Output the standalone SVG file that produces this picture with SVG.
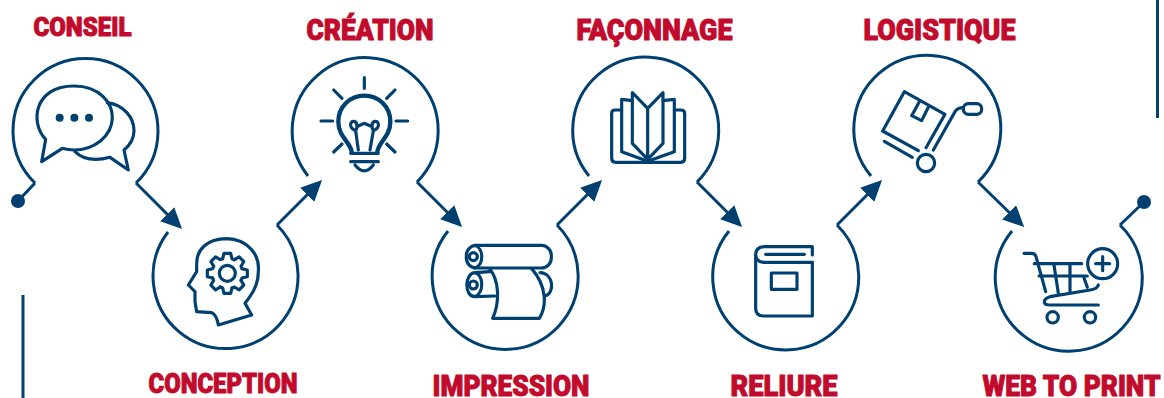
<svg xmlns="http://www.w3.org/2000/svg" xmlns:xlink="http://www.w3.org/1999/xlink" width="1164" height="398" viewBox="0 0 1164 398">
<style>
.ring,.conn,.rule{fill:none;stroke:#004070;stroke-width:3}
.ic{fill:none;stroke:#004070;stroke-width:9.500;stroke-linejoin:round;stroke-linecap:round}
.dot{fill:#004070;stroke:none}
.lb{font-family:"Roboto","Liberation Sans",sans-serif;font-weight:900;fill:#c20a2c;stroke:#c20a2c;stroke-width:1;stroke-linejoin:round}
</style>
<defs>
<marker id="arrow" viewBox="0 -10 21 20" refX="11" refY="0" markerWidth="21" markerHeight="20" markerUnits="userSpaceOnUse" orient="auto"><path d="M0-10L21 0L0 10Z" fill="#004070"/></marker>
<path id="tooth" d="M-14-44L-10-60L10-60L14-44L21.2-41"/>
</defs>
<rect width="1164" height="398" fill="#fff"/>
<path class="rule" d="M23 295V398"/>
<path class="rule" d="M1157.500 0V118"/>
<g id="connectors">
<path class="conn" d="M35 183L18 201"/>
<circle class="dot" cx="18" cy="201" r="7"/>
<path class="conn" marker-end="url(#arrow)" d="M136 183L175 222"/>
<path class="conn" marker-end="url(#arrow)" d="M277 225L315 187"/>
<path class="conn" marker-end="url(#arrow)" d="M417 182L455 220"/>
<path class="conn" marker-end="url(#arrow)" d="M557 225L595 187"/>
<path class="conn" marker-end="url(#arrow)" d="M697 182L735 220"/>
<path class="conn" marker-end="url(#arrow)" d="M837 225L875 187"/>
<path class="conn" marker-end="url(#arrow)" d="M978 182L1017 220"/>
<path class="conn" d="M1120 225L1144 202"/>
<circle class="dot" cx="1144" cy="202" r="7"/>
</g>
<g id="conseil">
<path class="ring" d="M35 183A72.500 72.500 0 1 1 136 183"/>
<g class="ic" transform="scale(.33333)">
<path d="M137 418C90 370 100 258 222 258C300 258 337 310 337 352C337 410 280 450 222 450Q205 450 187 445L125 485Z"/>
<path d="M322 308C370 315 402 350 402 392C402 415 390 435 372 450L385 510L330 472C300 480 255 485 225 455"/>
<circle class="dot" cx="179" cy="353" r="12"/><circle class="dot" cx="223" cy="353" r="12"/><circle class="dot" cx="267" cy="353" r="12"/>
</g>
<text class="lb" x="33.500" y="36" font-size="26" textLength="98" lengthAdjust="spacingAndGlyphs">CONSEIL</text>
</g>
<g id="conception">
<path class="ring" d="M168 232A72.500 72.500 0 1 0 277 225"/>
<g class="ic" transform="scale(.33333)">
<path d="M655 975L755 945L735 910C750 890 775 860 775 815C780 760 740 718 680 716C620 716 590 750 590 790L590 815L565 855L585 875L585 905L590 935L635 938Q650 945 655 975Z"/>
<circle cx="682" cy="820" r="24"/>
<g transform="translate(682 820)">
<use xlink:href="#tooth" href="#tooth"/><use href="#tooth" transform="rotate(45)"/><use href="#tooth" transform="rotate(90)"/><use href="#tooth" transform="rotate(135)"/><use href="#tooth" transform="rotate(180)"/><use href="#tooth" transform="rotate(225)"/><use href="#tooth" transform="rotate(270)"/><use href="#tooth" transform="rotate(315)"/>
</g>
</g>
<text class="lb" x="148.500" y="393" font-size="27" textLength="149" lengthAdjust="spacingAndGlyphs">CONCEPTION</text>
</g>
<g id="creation">
<path class="ring" d="M308 176A73 73 0 1 1 417 182"/>
<g class="ic" transform="translate(290 0) scale(.33333)">
<path d="M223 233V265M131 270L156 295M315 270L290 295M93 363H128M318 363H353M131 456L156 432M315 456L290 432"/>
<path stroke-width="13" d="M185 455C180 425 145 410 145 365C145 320 180 287 223 287C266 287 301 320 301 365C301 410 266 425 262 455"/>
<path d="M182 460H265M182 485H265M195 495Q223 530 250 495"/>
<path d="M205 450L197 392C175 385 180 362 192 364C204 366 202 385 197 392M240 450L250 392C272 385 267 362 255 364C243 366 245 385 250 392M205 378L222 370L242 378"/>
</g>
<text class="lb" x="306.500" y="40" font-size="29" textLength="127" lengthAdjust="spacingAndGlyphs">CRÉATION</text>
</g>
<g id="impression">
<path class="ring" d="M448 231A73 73 0 1 0 557 225"/>
<g class="ic" transform="translate(290 0) scale(.33333)">
<rect x="529" y="736" width="255" height="68" rx="30"/>
<path d="M555 736C582 745 582 795 555 804"/>
<circle cx="550" cy="770" r="12"/>
<path d="M600 815L555 818C525 818 520 890 555 890L615 888M555 818C582 825 582 880 555 890"/>
<circle cx="550" cy="855" r="12"/>
<path d="M600 808C625 840 632 900 608 955H748C770 920 772 860 725 806"/>
<path d="M750 818C792 820 795 880 765 888"/>
</g>
<text class="lb" x="432.500" y="395.500" font-size="29" textLength="157" lengthAdjust="spacingAndGlyphs">IMPRESSION</text>
</g>
<g id="faconnage">
<path class="ring" d="M589 176A73 73 0 1 1 697 182"/>
<g class="ic" transform="translate(570 0) scale(.33333)">
<path d="M233 325V480M233 325L187 278V430L233 478L279 430V278Z"/>
<path d="M187 302L155 298V455L233 484L313 455V298L279 302"/>
<path d="M155 330H135Q125 330 125 340V475Q125 487 137 487H332Q344 487 344 475V340Q344 330 332 330H313"/>
</g>
<text class="lb" x="576.500" y="40" font-size="29" textLength="156" lengthAdjust="spacingAndGlyphs">FAÇONNAGE</text>
</g>
<g id="reliure">
<path class="ring" d="M729 231A73 73 0 1 0 837 225"/>
<g class="ic" transform="translate(570 0) scale(.33333)">
<path d="M727 787V948H580Q557 948 557 925V765Q557 740 585 740H727V765"/>
<path d="M727 787H585Q557 787 557 765"/>
<path d="M587 763H703"/>
<rect x="604" y="819" width="77" height="49"/>
</g>
<text class="lb" x="730.500" y="395.500" font-size="29" textLength="107" lengthAdjust="spacingAndGlyphs">RELIURE</text>
</g>
<g id="logistique">
<path class="ring" d="M871 176A73.500 73.500 0 1 1 978 182"/>
<g class="ic" transform="translate(850 0) scale(.33333)">
<path d="M205 452L98 393L163 275L285 343L228 443"/>
<path d="M208 305L185 347L215 362L235 322"/>
<path d="M103 424L187 472"/>
<path d="M250 450L315 335Q322 323 340 323"/>
<rect x="340" y="311" width="55" height="32" rx="15"/>
<circle cx="228" cy="489" r="26"/>
</g>
<text class="lb" x="863.500" y="40" font-size="29" textLength="152" lengthAdjust="spacingAndGlyphs">LOGISTIQUE</text>
</g>
<g id="web-to-print">
<path class="ring" d="M1012 231A73.500 73.500 0 1 0 1120 225"/>
<g class="ic" transform="translate(850 0) scale(.33333)">
<path d="M522 760H545Q555 760 558 770L587 875"/>
<path d="M553 791H695M567 828H712M612 795L625 880M660 793V875M700 828L712 862"/>
<path d="M745 855Q740 868 720 870L600 890Q583 895 583 905Q583 915 600 915H745"/>
<circle cx="608" cy="952" r="17"/><circle cx="720" cy="952" r="17"/>
<circle cx="758" cy="791" r="45"/>
<path d="M758 770V812M737 791H779"/>
</g>
<text class="lb" x="982.500" y="395.500" font-size="29" textLength="178" lengthAdjust="spacingAndGlyphs">WEB TO PRINT</text>
</g>
</svg>
